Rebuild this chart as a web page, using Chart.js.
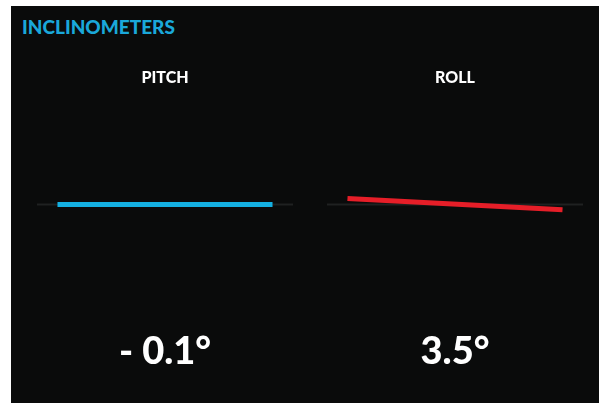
<!DOCTYPE html>
<html>
<head>
<meta charset="utf-8">
<script src="https://cdn.jsdelivr.net/npm/chart.js@4"></script>
<style>
  body { margin: 0; background: #fff; width: 599px; height: 403px; overflow: hidden; position: relative; }
  #panel { position: absolute; left: 11px; top: 6px; width: 588px; height: 397px; background: #0a0b0b; }
  #heading { position: absolute; left: 22px; top: 15px; color: #1aa8da; font: 900 19px Lato, sans-serif; letter-spacing: 0px; }
  .gauge { position: absolute; top: 6px; width: 256px; height: 397px; }
</style>
</head>
<body>
<div id="panel"></div>
<div id="heading">INCLINOMETERS</div>
<div class="gauge" style="left:37px"><canvas id="pitch" width="256" height="397"></canvas></div>
<div class="gauge" style="left:327px"><canvas id="roll" width="256" height="397"></canvas></div>
<script>
const gauges = ['PITCH', 'ROLL'];
const readings = [-0.1, 3.5];
const levelX = [-1, 1];
const levelY = [0, 0];
const barX = [-0.84, 0.84];
const pitchY = [0, 0];
const rollY = [0.06, -0.055];
const colors = ['#14b0e2', '#e61e28'];

function fmt(v) {
  return v < 0 ? '- ' + Math.abs(v).toFixed(1) + '°' : v.toFixed(1) + '°';
}

function pts(xs, ys) {
  return xs.map((x, i) => ({ x, y: ys[i] }));
}

function makeGauge(id, idx, barY) {
  new Chart(document.getElementById(id), {
    type: 'scatter',
    data: {
      datasets: [
        {
          data: pts(levelX, levelY),
          showLine: true,
          borderColor: '#1f2121',
          borderWidth: 2,
          pointRadius: 0,
          order: 2,
        },
        {
          data: pts(barX, barY),
          showLine: true,
          borderColor: colors[idx],
          borderWidth: 5,
          pointRadius: 0,
          order: 1,
        },
      ],
    },
    options: {
      responsive: false,
      animation: false,
      layout: { padding: 0 },
      scales: {
        x: { display: false, min: -1, max: 1 },
        y: { display: false, min: -1, max: 1 },
      },
      plugins: {
        legend: { display: false },
        tooltip: { enabled: false },
        title: {
          display: true,
          text: gauges[idx],
          color: '#ffffff',
          font: { family: 'Lato', size: 16, weight: 900 },
          padding: { top: 62, bottom: 20 },
        },
        subtitle: {
          display: true,
          position: 'bottom',
          text: fmt(readings[idx]),
          color: '#ffffff',
          font: { family: 'Lato', size: 38, weight: 900 },
          padding: { top: 27, bottom: 28.8 },
        },
      },
    },
  });
}

makeGauge('pitch', 0, pitchY);
makeGauge('roll', 1, rollY);
</script>
</body>
</html>
